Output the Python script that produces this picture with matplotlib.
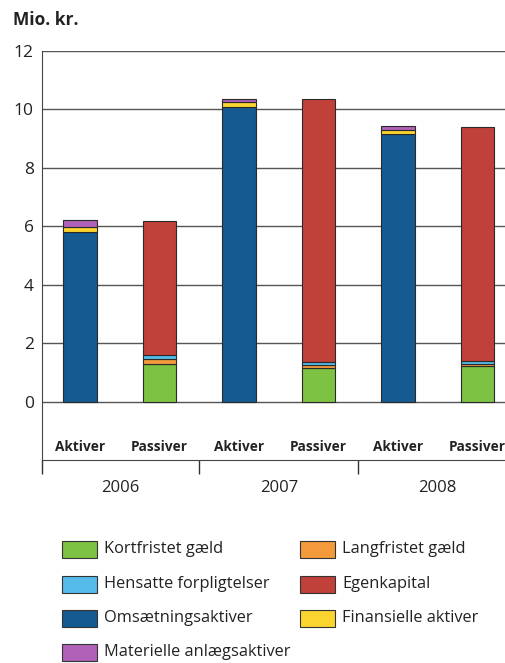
import matplotlib
matplotlib.use("Agg")
import matplotlib.pyplot as plt
from matplotlib.patches import Rectangle
import numpy as np

plt.rcParams['font.family'] = ['Open Sans', 'DejaVu Sans']

years = ["2006", "2007", "2008"]
bar_labels = ["Aktiver", "Passiver", "Aktiver", "Passiver", "Aktiver", "Passiver"]

# Passiver components (per year)
kortfristet = [1.30, 1.14, 1.21]
langfristet = [0.17, 0.10, 0.09]
hensatte = [0.13, 0.12, 0.10]
egenkapital = [4.58, 9.00, 8.01]
# Aktiver components (per year)
omsaetning = [5.80, 10.07, 9.15]
finansielle = [0.17, 0.18, 0.15]
materielle = [0.23, 0.12, 0.14]

colors = {
    "Kortfristet gæld": "#7dc242",
    "Langfristet gæld": "#f39a3b",
    "Hensatte forpligtelser": "#55bbea",
    "Egenkapital": "#c0403a",
    "Omsætningsaktiver": "#155a90",
    "Finansielle aktiver": "#fbd52f",
    "Materielle anlægsaktiver": "#b062b8",
}

W, H = 506, 663
fig = plt.figure(figsize=(W / 100, H / 100), dpi=100)
ax = fig.add_axes([42 / W, 1 - 460 / H, 1 - 42 / W, (460 - 51) / H])

x_akt = np.array([0, 2, 4])
x_pas = np.array([1, 3, 5])
bw = 0.42
edge = dict(edgecolor="#2a2a2a", linewidth=0.8, zorder=3)

bottom = np.zeros(3)
for name, vals in [("Omsætningsaktiver", omsaetning), ("Finansielle aktiver", finansielle),
                   ("Materielle anlægsaktiver", materielle)]:
    ax.bar(x_akt, vals, bw, bottom=bottom, color=colors[name], **edge)
    bottom += np.array(vals)

bottom = np.zeros(3)
for name, vals in [("Kortfristet gæld", kortfristet), ("Langfristet gæld", langfristet),
                   ("Hensatte forpligtelser", hensatte), ("Egenkapital", egenkapital)]:
    ax.bar(x_pas, vals, bw, bottom=bottom, color=colors[name], **edge)
    bottom += np.array(vals)

ax.set_ylim(-2, 12)
ax.set_xlim(-0.48, 5.36)
ax.set_yticks(range(0, 13, 2))
ax.set_yticklabels([str(v) for v in range(0, 13, 2)], fontsize=12.5, color="#222")
ax.tick_params(axis="y", length=0, pad=6)
for v in range(0, 13, 2):
    ax.axhline(v, color="#555", linewidth=1.0, zorder=1)

ax.set_xticks([-0.48, 1.5, 3.5])
ax.set_xticklabels([])
ax.tick_params(axis="x", length=10, width=1.0, color="#333", direction="out")

for s in ["top", "right"]:
    ax.spines[s].set_visible(False)
ax.spines["left"].set_color("#444")
ax.spines["bottom"].set_color("#444")

for xi, lab in enumerate(bar_labels):
    ax.text(xi, -1.55, lab, ha="center", va="center",
            fontsize=9.8, fontweight="bold", color="#222")
for i, y in enumerate(years):
    ax.text(0.5 + 2 * i, -2.95, y, ha="center", va="center", fontsize=12, color="#222")

fig.text(13 / W, 1 - 20 / H, "Mio. kr.", fontsize=12.5, fontweight="bold", color="#222",
         ha="left", va="center")

# Legend
col1 = ["Kortfristet gæld", "Hensatte forpligtelser", "Omsætningsaktiver", "Materielle anlægsaktiver"]
col2 = ["Langfristet gæld", "Egenkapital", "Finansielle aktiver"]
rows_y = [549, 584, 618, 652]
for col, px in [(col1, 62), (col2, 300)]:
    for name, py in zip(col, rows_y):
        fig.add_artist(Rectangle((px / W, 1 - (py + 8.5) / H), 35 / W, 17 / H,
                                 transform=fig.transFigure, facecolor=colors[name],
                                 edgecolor="#333", linewidth=0.8))
        fig.text((px + 42) / W, 1 - py / H, name, fontsize=11.8, color="#222",
                 ha="left", va="center")

fig.savefig("out.png", dpi=100)
